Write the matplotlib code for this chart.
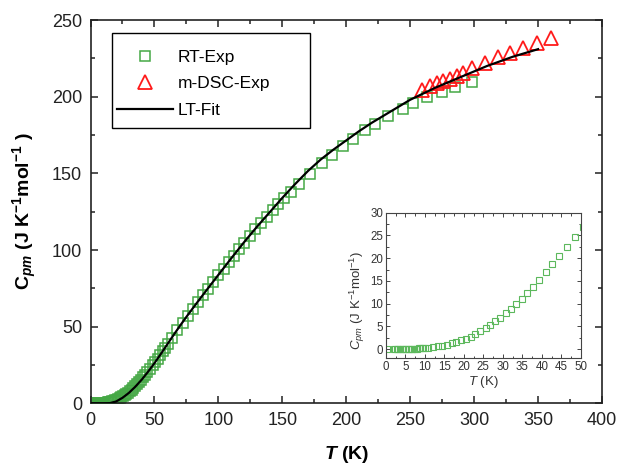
import matplotlib
matplotlib.use("Agg")
import matplotlib.pyplot as plt
from matplotlib.ticker import MultipleLocator

plt.rcParams['font.family'] = ['Liberation Sans', 'DejaVu Sans']
plt.rcParams['mathtext.fontset'] = 'custom'
plt.rcParams['mathtext.rm'] = 'Liberation Sans'
plt.rcParams['mathtext.it'] = 'Liberation Sans:italic'
plt.rcParams['mathtext.bf'] = 'Liberation Sans:bold'
plt.rcParams['mathtext.bfit'] = 'Liberation Sans:bold:italic'

# RT-Exp data (T in K, Cpm in J/K/mol)
rt_T = [0.25, 2.0, 2.4, 2.8, 3.2, 3.6, 4.0, 4.4, 4.8, 5.2, 5.6, 6.0, 6.4, 6.8,
        7.2, 7.6, 8.0, 8.4, 8.8, 9.2, 9.6, 10.0,
        10.9, 12.1, 13.3, 14.5, 15.7, 16.9, 18.1, 19.3, 20.5, 21.7, 22.9, 24.2,
        25.6, 26.8, 28.1, 29.4, 30.7, 32.1, 33.4, 34.9, 36.2, 37.7, 39.3, 41.0,
        42.7, 44.5, 46.6, 48.6,
        50.6, 52.6, 54.6, 56.6, 58.6, 60.6, 64, 68, 72, 76, 80, 84, 88, 92, 96, 100,
        104, 108, 112, 116, 120, 124.5, 129, 133.5, 138, 142.5, 147, 151.5,
        156.5, 163, 171.6, 180.8, 188.6, 197.6, 205.5, 214.6, 222.5, 232.9,
        244.6, 252.4, 262.9, 274.6, 285.0, 298.1]
rt_C = [0.0, 0.0, 0.0, 0.01, 0.01, 0.02, 0.02, 0.03, 0.04, 0.05, 0.06, 0.07, 0.08, 0.1,
        0.11, 0.13, 0.15, 0.17, 0.2, 0.22, 0.25, 0.28,
        0.35, 0.45, 0.6, 0.8, 1.0, 1.3, 1.6, 1.95, 2.3, 2.75, 3.3, 3.9,
        4.6, 5.3, 6.1, 6.9, 7.9, 8.8, 10.0, 11.1, 12.4, 13.7, 15.3, 17.0,
        18.7, 20.5, 22.5, 24.7,
        26.9, 29.2, 31.6, 34.0, 36.4, 38.8, 42.8, 47.5, 52.2, 56.8, 61.4, 66.0, 70.4,
        74.8, 79.2, 83.5, 87.8, 92.0, 96.2, 100.4, 104.5, 109.0, 113.4, 117.6, 121.8,
        125.9, 130.0, 133.8, 138.0, 143.0, 149.5, 156.5, 162.0, 168.0, 172.5,
        178.0, 182.5, 187.5, 192.0, 196.0, 199.6, 203.2, 206.5, 209.8]

# m-DSC-Exp data
dsc_T = [259.0, 265.5, 270.7, 275.9, 281.1, 286.4, 291.5, 298.1, 308.5, 318.9,
         328.1, 338.5, 349.0, 360.0]
dsc_C = [204.3, 207.0, 208.7, 210.2, 211.5, 213.5, 215.2, 218.5, 221.8, 225.7,
         228.7, 231.6, 234.9, 238.1]

# LT-Fit curve
fit_T = [0, 10, 15, 20, 25, 30, 35, 40, 45, 50, 55, 60, 65, 70, 75, 80, 90, 100,
         110, 120, 130, 140, 150, 160, 170, 180, 190, 200, 210, 220, 230, 240,
         250, 260, 270, 280, 290, 300, 310, 320, 330, 340, 350]
fit_C = [0, 0, 0.1, 1.2, 3.6, 6.8, 10.8, 15.4, 20.6, 26.2, 32.2, 38.4, 44.6, 50.6,
         56.4, 62.0, 73.0, 83.8, 94.5, 105.0, 115.0, 124.5, 134.0, 143.0, 151.5,
         159.0, 165.5, 171.5, 177.5, 183.0, 188.0, 193.0, 198.0, 202.0, 206.0,
         209.5, 213.0, 216.5, 220.0, 223.0, 226.0, 228.5, 231.0]

green = '#45a845'
spine_col = '#222222'

fig = plt.figure(figsize=(6.17, 4.66), dpi=100)
ax = fig.add_axes([0.1467, 0.1345, 0.829, 0.8225])

ax.plot(rt_T, rt_C, ls='none', marker='s', ms=7.4, mfc='none', mec=green,
        mew=1.1, label='RT-Exp', zorder=2)
ax.plot(dsc_T, dsc_C, ls='none', marker='^', ms=10.5, mfc='none', mec='#ff1a1a',
        mew=1.3, label='m-DSC-Exp', zorder=3)
ax.plot(fit_T, fit_C, color='black', lw=1.6, label='LT-Fit', zorder=4)

ax.set_xlim(0, 400)
ax.set_ylim(0, 250)
ax.xaxis.set_major_locator(MultipleLocator(50))
ax.xaxis.set_minor_locator(MultipleLocator(25))
ax.yaxis.set_major_locator(MultipleLocator(50))
ax.yaxis.set_minor_locator(MultipleLocator(25))
ax.tick_params(which='both', direction='in', top=True, right=True,
               color=spine_col, width=1.1)
ax.tick_params(which='major', length=5, labelsize=13, pad=6, labelcolor='#222222')
ax.tick_params(which='minor', length=3)
for s in ax.spines.values():
    s.set_linewidth(1.2)
    s.set_color(spine_col)

ax.set_xlabel(r'$\mathbfit{T}$ (K)', fontsize=14, fontweight='bold', labelpad=11)
ax.set_ylabel(r'$\mathbf{C}_{\mathbfit{pm}}$ (J K$^{\mathbf{-1}}$mol$^{\mathbf{-1}}$ )',
              fontsize=14, fontweight='bold')
ax.yaxis.set_label_coords(-0.10, 0.5)

leg = ax.legend(loc='upper left', bbox_to_anchor=(0.052, 0.923), borderaxespad=0,
                borderpad=0, frameon=False, fontsize=12.5, handlelength=3.2,
                handletextpad=0.3, labelspacing=0.66, numpoints=1)
frame = plt.Rectangle((0.0415, 0.7175), 0.3877, 0.2475, transform=ax.transAxes,
                      fill=False, edgecolor='black', lw=1.0, zorder=5)
ax.add_patch(frame)

# inset
axi = fig.add_axes([0.6256, 0.2311, 0.3156, 0.3124])
axi.plot(rt_T, rt_C, ls='none', marker='s', ms=4.6, mfc='none', mec='#5cb85c',
         mew=0.8)
axi.set_xlim(0, 50)
axi.set_ylim(-2, 30)
axi.xaxis.set_major_locator(MultipleLocator(5))
axi.xaxis.set_minor_locator(MultipleLocator(2.5))
axi.yaxis.set_major_locator(MultipleLocator(5))
axi.yaxis.set_minor_locator(MultipleLocator(2.5))
axi.tick_params(which='both', direction='in', top=True, right=True,
                color='#444444', width=0.7)
axi.tick_params(which='major', length=3, labelsize=8.3, pad=2, labelcolor='#333333')
axi.tick_params(which='minor', length=1.8)
for s in axi.spines.values():
    s.set_linewidth(0.8)
    s.set_color('#444444')
axi.set_xlabel(r'$\mathit{T}$ (K)', fontsize=9.5, color='#333333', labelpad=1)
axi.set_ylabel(r'$C_{pm}$ (J K$^{-1}$mol$^{-1}$)', fontsize=9.5, color='#333333')
axi.yaxis.set_label_coords(-0.10, 0.40)

fig.savefig('out.png', dpi=100)
